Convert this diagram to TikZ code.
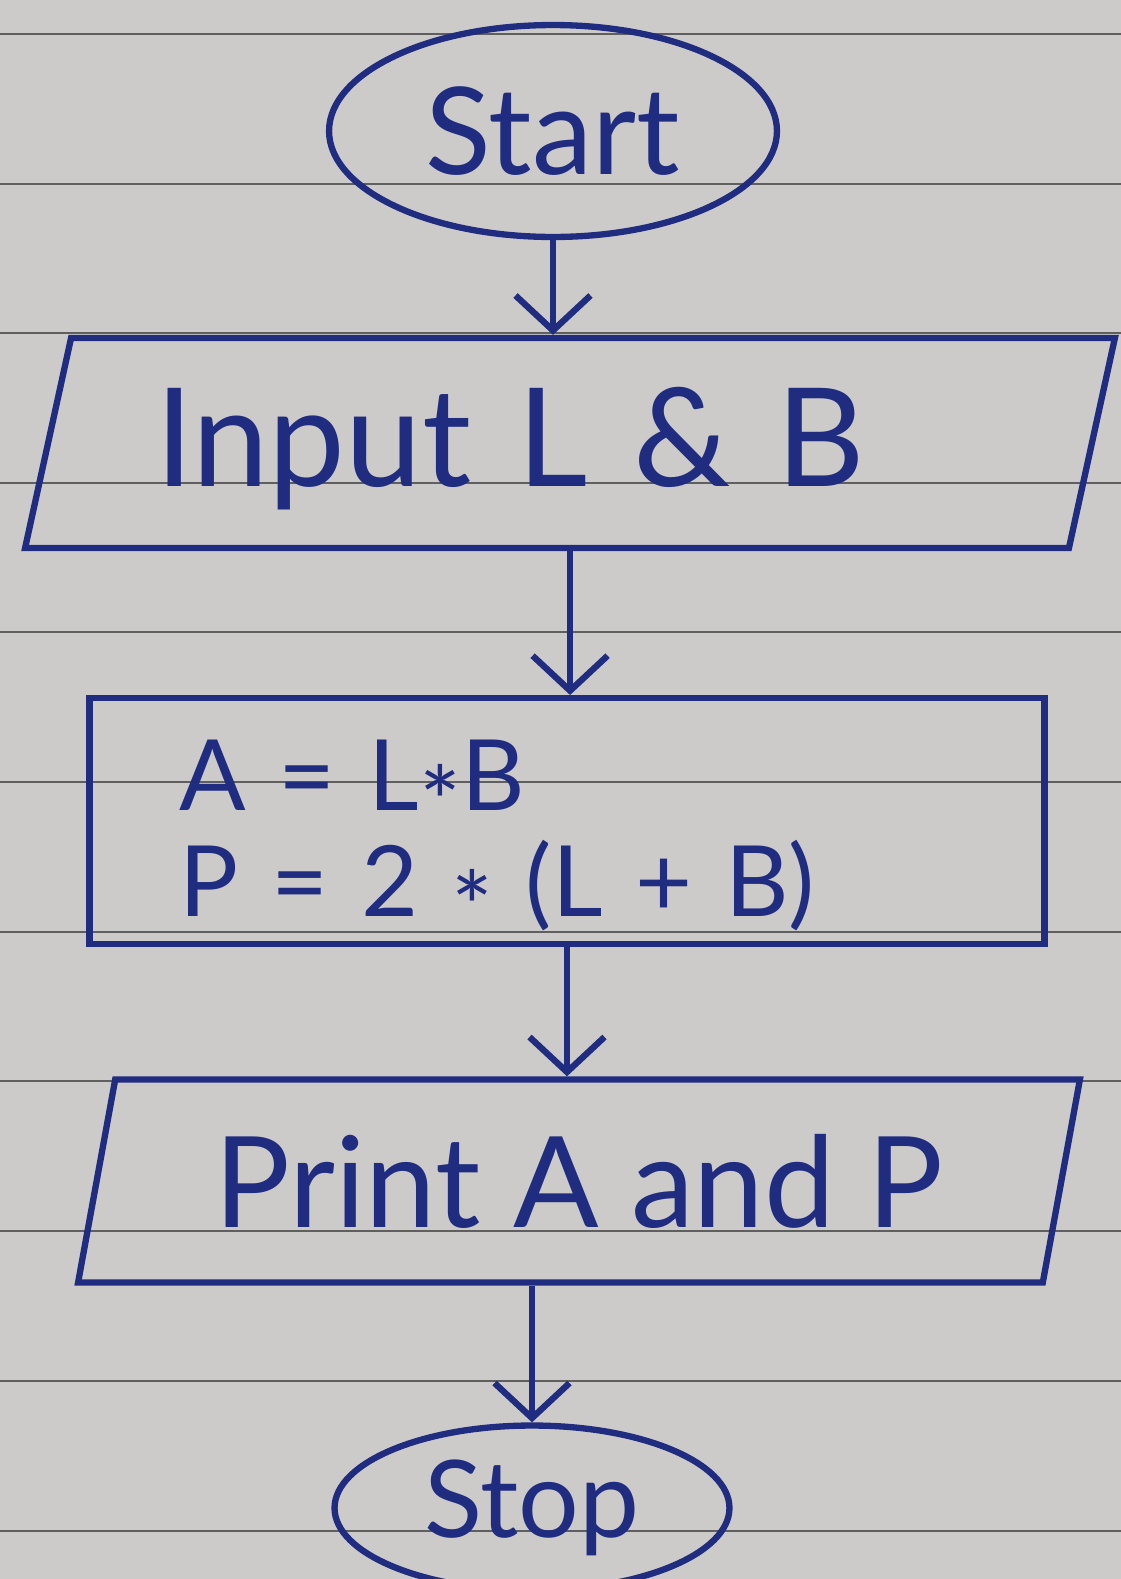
\documentclass[tikz,border=0pt]{standalone}
\usepackage{fontspec}
\setmainfont{Lato}
\usetikzlibrary{shapes.geometric,arrows.meta}
\definecolor{ink}{RGB}{32,44,128}
\definecolor{paper}{RGB}{204,203,202}
\definecolor{rule}{RGB}{95,95,95}
\newcommand\mult{\raisebox{-0.28em}{*}}
\tikzset{
  flow/.style={draw=ink,line width=3.6pt,text=ink},
  terminal/.style={flow,ellipse,inner sep=0pt},
  io/.style={flow,trapezium,trapezium stretches body,inner sep=0pt},
  procbox/.style={flow,rectangle,inner sep=0pt},
  link/.style={draw=ink,line width=3.6pt,-{Straight Barb[length=0.7cm,width=1.5cm,line width=3.6pt]}},
}
\begin{document}
\begin{tikzpicture}[x=0.02cm,y=-0.02cm]
\fill[paper] (0,0) rectangle (1121,1579);
\useasboundingbox (0,0) rectangle (1121,1579);
% ruled paper
\foreach \y in {34,184,333,483,632,782,932,1081,1231,1381,1531}
  \draw[rule,line width=1.2pt] (0,\y) -- (1121,\y);
% flowchart
\node[terminal,minimum width=8.96cm,minimum height=4.24cm,font=\fontsize{69}{76}\selectfont] (start) at (553,131) {Start};
\node[io,trapezium left angle=71,trapezium right angle=109,minimum width=21.8cm,minimum height=4.2cm,text width=16.6cm,align=left,font=\fontsize{78}{86}\selectfont] (input) at (570,443) {\rule{0pt}{2.2cm}Input L \& B};
\node[procbox,minimum width=19.1cm,minimum height=4.74cm,text width=15.5cm,align=left,font=\fontsize{56}{54}\selectfont] (calc) at (567,821) {\rule{0pt}{2.25cm}A = L\mult B\\P = 2 \mult{} (L + B)};
\node[io,trapezium left angle=68.5,trapezium right angle=111.5,minimum width=20.04cm,minimum height=4.06cm,font=\fontsize{72}{80}\selectfont] (print) at (579,1181) {Print A and P};
\node[terminal,minimum width=7.9cm,minimum height=3.3cm,font=\fontsize{61}{68}\selectfont] (stop) at (532,1508) {Stop};
\draw[link] (start.south) -- (start.south |- input.north);
\draw[link] (input.south) -- (input.south |- calc.north);
\draw[link] (calc.south) -- (calc.south |- print.north);
\draw[link] (stop.north |- print.south) -- (stop.north);
\end{tikzpicture}
\end{document}
